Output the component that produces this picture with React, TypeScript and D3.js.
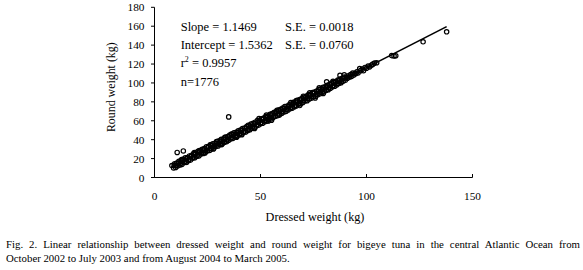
import React, { useLayoutEffect, useRef } from "react";
import * as d3 from "d3";

// ---- data ----
const slope = 1.1469;
const intercept = 1.5362;
const lineRange: [number, number] = [8.0, 137.8];

const xTicks = [0, 50, 100, 150];
const yTicks = [0, 20, 40, 60, 80, 100, 120, 140, 160, 180];

// dense band, dressed weight (kg) vs round weight (kg)
const bandPoints: [number, number][] = [
  [8.2, 12.6],
  [9, 10.1], [9.5, 14.4], [10, 10.7], [10.5, 15.3], [11, 12.3], [11.5, 17.1], [12, 13.2], [12.5, 17.8],
  [13, 13.9], [13.5, 19.2], [14, 15.8], [14.5, 20.8], [15, 16.3], [15.5, 21.1], [16, 17.9], [16.5, 22.8],
  [17, 18.4], [17.5, 23.6], [18, 20.3], [18.5, 25.3], [19, 21.0], [19.5, 25.8], [20, 22.4], [20.5, 27.7],
  [21, 22.9], [21.5, 28.3], [22, 25.0], [22.5, 29.7], [23, 25.4], [23.5, 30.5], [24, 26.9], [24.5, 32.4],
  [25, 28.2], [25.5, 32.7], [26, 28.6], [26.5, 34.2], [27, 30.4], [27.5, 35.7], [28, 31.3], [28.5, 36.2],
  [29, 32.9], [29.5, 37.9], [30, 33.3], [30.5, 38.7], [31, 34.9], [31.5, 40.4], [32, 35.7], [32.5, 40.7],
  [33, 37.4], [33.5, 42.4], [34, 37.8], [34.5, 43.2], [35, 39.4], [35.5, 44.9], [36, 40.9], [36.5, 45.7],
  [37, 41.4], [37.5, 47.3], [38, 42.9], [38.5, 47.7], [39, 43.5], [39.5, 49.3], [40, 45.3], [40.5, 50.2],
  [41, 46.1], [41.5, 51.8], [42, 47.7], [42.5, 52.4], [43, 48.2], [43.5, 54.0], [44, 49.7], [44.5, 54.8],
  [45, 50.5], [45.5, 56.5], [46, 52.2], [46.5, 57.2], [47, 52.6], [47.5, 58.5], [48, 54.4], [48.5, 60.1],
  [49, 55.2], [49.5, 60.5], [50, 56.9], [50.5, 62.1], [51, 57.3], [51.5, 62.9], [52, 58.9], [52.5, 64.4],
  [53, 59.7], [53.5, 65.0], [54, 61.4], [54.5, 66.8], [55, 61.8], [55.5, 67.6], [56, 63.4], [56.5, 68.9],
  [57, 64.7], [57.5, 69.7], [58, 65.4], [58.5, 71.3], [59, 66.9], [59.5, 72.1], [60, 67.8], [60.5, 73.5],
  [61, 69.4], [61.5, 75.0], [62, 69.8], [62.5, 75.4], [63, 71.4], [63.5, 77.0], [64, 72.7], [64.5, 77.8],
  [65, 73.4], [65.5, 79.4], [66, 74.9], [66.5, 79.9], [67, 75.8], [67.5, 81.7], [68, 77.5], [68.5, 82.5],
  [69, 78.0], [69.5, 83.4], [70, 79.4], [70.5, 85.0], [71, 80.9], [71.5, 85.8], [72, 81.3], [72.5, 87.4],
  [73, 83.0], [73.5, 87.9], [74, 83.8], [74.5, 89.8], [75, 85.4], [75.5, 90.5], [76, 86.0], [76.5, 91.5],
  [77, 87.5], [77.5, 93.0], [78, 88.5], [78.5, 93.9], [79, 90.0], [79.5, 95.4], [80, 90.7], [80.5, 96.0],
  [81, 92.2], [81.5, 97.5], [82, 92.9], [82.5, 98.4], [83, 94.4], [83.5, 99.9], [84, 95.9], [84.5, 100.7],
  [85, 96.5], [85.5, 101.6], [86, 98.0], [86.5, 103.1], [87, 99.4], [87.5, 104.0], [88, 100.2], [88.5, 104.8],
  [89, 101.8], [89.5, 106.2], [90, 102.8],
  [90.5, 106.2], [91, 105.0], [91.5, 107.5], [92, 106.1], [92.5, 108.8], [93, 107.0], [93.5, 110.4],
  [94, 108.5], [94.5, 110.2], [95, 109.9], [95.5, 111.8], [96, 110.5], [96.8, 115.3], [97.2, 113.0],
  [98, 114.6], [98.6, 112.9], [99.3, 116.4], [100, 115.6], [100.8, 117.9], [101.5, 117.0], [102.4, 118.8],
  [103, 119.9], [103.8, 121.0], [104.8, 121.3],
];

// points near the middle of the band
const midPoints: [number, number][] = [
  [9.25, 12.9], [10.25, 12.6], [11.25, 15.2], [12.25, 14.9], [13.25, 17.6], [14.25, 17.1], [15.25, 19.9],
  [16.25, 19.4], [17.25, 22.2], [18.25, 21.6], [19.25, 24.5], [20.25, 23.9], [21.25, 26.9], [22.25, 26.2],
  [23.25, 29.1], [24.25, 28.5], [25.25, 31.5], [26.25, 30.8], [27.25, 33.8], [28.25, 33.0], [29.25, 36.0],
  [30.25, 35.3], [31.25, 38.4], [32.25, 37.6], [33.25, 40.7], [34.25, 39.9], [35.25, 43.0], [36.25, 42.1],
  [37.25, 45.3], [38.25, 44.5], [39.25, 47.6], [40.25, 46.7], [41.25, 49.9], [42.25, 49.1], [43.25, 52.2],
  [44.25, 51.3], [45.25, 54.5], [46.25, 53.6], [47.25, 56.8], [48.25, 55.9], [49.25, 59.1], [50.25, 58.2],
  [51.25, 61.4], [52.25, 60.5], [53.25, 63.7], [54.25, 62.8], [55.25, 66.0], [56.25, 65.0], [57.25, 68.3],
  [58.25, 67.3], [59.25, 70.6], [60.25, 69.6], [61.25, 72.9], [62.25, 71.9], [63.25, 75.2], [64.25, 74.2],
  [65.25, 77.5], [66.25, 76.5], [67.25, 79.8], [68.25, 78.8], [69.25, 82.1], [70.25, 81.1], [71.25, 84.4],
  [72.25, 83.4], [73.25, 86.7], [74.25, 85.7], [75.25, 89.0], [76.25, 88.0], [77.25, 91.2], [78.25, 90.3],
  [79.25, 93.5], [80.25, 92.6], [81.25, 95.8], [82.25, 94.9], [83.25, 98.1], [84.25, 97.2], [85.25, 100.4],
  [86.25, 99.5], [87.25, 102.6], [88.25, 101.9], [89.25, 104.9],
];

// scattered points off the centre of the band
const edgePoints: [number, number][] = [
  [21.2, 28.4], [27.8, 30.1], [33.2, 42.6], [38.7, 42.5], [44.2, 55.3], [47.2, 51.9], [52.8, 66.0],
  [55.2, 60.5], [57.8, 71.2], [26.3, 34.5], [31.7, 34.8], [36.3, 46.0], [41.2, 45.2], [49.3, 62.4],
  [53.7, 59.8], [58.8, 65.9], [18.8, 26.3], [15.2, 16.0], [12.8, 18.9], [23.8, 25.9], [29.3, 37.9],
  [79.6, 88.9], [81.2, 101.2], [87.5, 108.0], [89.5, 108.6], [64.3, 79.2], [70.2, 86.0], [75.8, 84.2],
  [68.5, 76.1], [73.2, 89.6], [84.2, 101.8], [66.9, 81.5], [77.7, 94.9],
  [111.9, 128.9], [113.0, 128.6], [113.8, 128.8], [126.7, 143.5], [137.8, 154.1],
];

const outliers: [number, number][] = [
  [10.7, 26.5], [13.6, 28.1], [35.0, 64.1],
];

const statLines = [
  { left: "Slope = 1.1469", right: "S.E. = 0.0018" },
  { left: "Intercept = 1.5362", right: "S.E. = 0.0760" },
];

const captionLines = [
  "Fig. 2. Linear relationship between dressed weight and round weight for bigeye tuna in the central Atlantic Ocean from",
  "October 2002 to July 2003 and from August 2004 to March 2005.",
];

const FONT = '"Liberation Serif", "Times New Roman", Times, serif';

export default function App() {
  const cap1 = useRef<SVGTextElement>(null);

  const x = d3.scaleLinear().domain([0, 150]).range([154.5, 472.5]);
  const y = d3.scaleLinear().domain([0, 180]).range([177.5, 7.3]);

  useLayoutEffect(() => {
    const el = cap1.current;
    if (!el) return;
    el.setAttribute("word-spacing", "0");
    const natural = el.getComputedTextLength();
    const target = 580 - 6;
    const spaces = (captionLines[0].match(/ /g) || []).length;
    el.setAttribute("word-spacing", String((target - natural) / spaces));
  }, []);

  const allPoints = [...bandPoints, ...midPoints, ...edgePoints, ...outliers];
  const fitLine = d3
    .line<number>()
    .x((d) => x(d))
    .y((d) => y(slope * d + intercept));

  return (
    <svg
      width={583}
      height={270}
      style={{ position: "absolute", left: 0, top: 0, background: "#fff" }}
      fontFamily={FONT}
    >
      <rect x={0} y={0} width={583} height={270} fill="#fff" />
      {/* points */}
      <g fill="none" stroke="#000" strokeWidth={1.2}>
        {allPoints.map((p, i) => (
          <circle key={i} cx={x(p[0])} cy={y(p[1])} r={2.2} />
        ))}
      </g>
      {/* regression line */}
      <path d={fitLine(lineRange) || ""} stroke="#000" strokeWidth={1.6} fill="none" />

      {/* axes */}
      <line x1={x(0)} x2={x(0)} y1={y(180)} y2={y(0)} stroke="#000" strokeWidth={1} />
      <line x1={x(0)} x2={x(150)} y1={y(0)} y2={y(0)} stroke="#000" strokeWidth={1} />
      {yTicks.map((t) => (
        <g key={"y" + t}>
          <line x1={x(0) - 3.5} x2={x(0)} y1={y(t)} y2={y(t)} stroke="#000" strokeWidth={1} />
          <text x={144.5} y={y(t) + 4} textAnchor="end" fontSize={11.3}>
            {t}
          </text>
        </g>
      ))}
      {xTicks.map((t) => (
        <g key={"x" + t}>
          <line x1={x(t)} x2={x(t)} y1={y(0)} y2={y(0) - 3.5} stroke="#000" strokeWidth={1} />
          <text x={x(t)} y={199.8} textAnchor="middle" fontSize={11.3}>
            {t}
          </text>
        </g>
      ))}

      {/* axis titles */}
      <text x={315} y={220.5} textAnchor="middle" fontSize={12.2}>
        Dressed weight (kg)
      </text>
      <text
        transform="translate(115,87.2) rotate(-90)"
        textAnchor="middle"
        fontSize={11.9}
      >
        Round weight (kg)
      </text>

      {/* statistics */}
      {statLines.map((s, i) => (
        <g key={"s" + i}>
          <text x={180.7} y={30.5 + i * 18.4} fontSize={12.5}>
            {s.left}
          </text>
          <text x={285} y={30.5 + i * 18.4} fontSize={12.5}>
            {s.right}
          </text>
        </g>
      ))}
      <text x={180.7} y={67.4} fontSize={12.5}>
        r
        <tspan fontSize={8} dy={-5}>
          2
        </tspan>
        <tspan dy={5}> = 0.9957</tspan>
      </text>
      <text x={180.7} y={85.9} fontSize={12.5}>
        n=1776
      </text>

      {/* caption */}
      <text ref={cap1} x={6} y={247.7} fontSize={10.8}>
        {captionLines[0]}
      </text>
      <text x={6} y={261.7} fontSize={10.8}>
        {captionLines[1]}
      </text>
    </svg>
  );
}
